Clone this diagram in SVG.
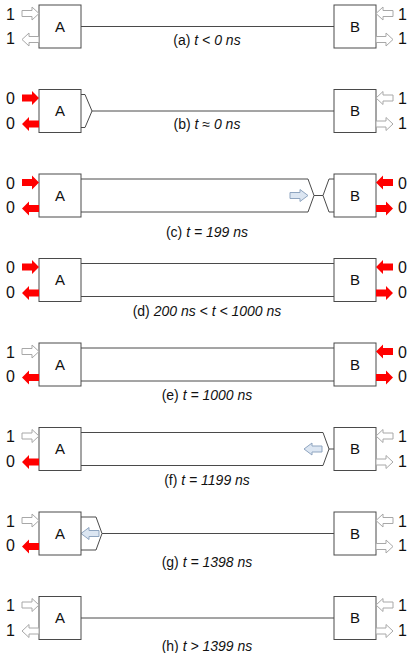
<svg xmlns="http://www.w3.org/2000/svg" xmlns:xlink="http://www.w3.org/1999/xlink" width="414" height="653" viewBox="0 0 414 653">
<style>
text{font-family:"Liberation Sans",Arial,sans-serif;font-size:14px;fill:#111}
.cap{text-anchor:middle}
.it{font-style:italic}
.box{fill:#fff;stroke:#4a4a4a;stroke-width:1}
.nm{text-anchor:middle;font-size:15px}
.sv{font-size:16px}
.ln{fill:none;stroke:#4a4a4a;stroke-width:1}
.w{fill:#fff;stroke:#a8a8a8;stroke-width:1}
.r{fill:#f00;stroke:none}
.lb{fill:#dce6f2;stroke:#8fa5c0;stroke-width:1}
</style>
<defs>
<polygon id="arr" points="-17,-3 -7,-3 -7,-6.5 0,0 -7,6.5 -7,3 -17,3"/>
<polygon id="arrR" points="-17,-3.5 -7,-3.5 -7,-7 0,0 -7,7 -7,3.5 -17,3.5"/>
<polygon id="arrB" points="-18,-3 -8,-3 -8,-6 0,0 -8,6 -8,3 -18,3"/>
</defs>

<g id="connectors">
<line class="ln" x1="81" y1="26.5" x2="334" y2="26.5"/>
<path class="ln" d="M81,94.5 H85 L92,111 L85,127.5 H81"/>
<line class="ln" x1="92" y1="111" x2="334" y2="111"/>
<path class="ln" d="M81,179 H308 L314,195.5 L308,212 H81"/>
<path class="ln" d="M334,179 H329 L323,195.5 L329,212 H334"/>
<line class="ln" x1="314" y1="195.5" x2="323" y2="195.5"/>
<use href="#arrB" class="lb" transform="translate(308,195.5)"/>
<line class="ln" x1="81" y1="263.5" x2="334" y2="263.5"/>
<line class="ln" x1="81" y1="296.5" x2="334" y2="296.5"/>
<line class="ln" x1="81" y1="348" x2="334" y2="348"/>
<line class="ln" x1="81" y1="381" x2="334" y2="381"/>
<path class="ln" d="M81,432.5 H323 L329,449 L323,465.5 H81"/>
<line class="ln" x1="329" y1="449" x2="334" y2="449"/>
<use href="#arrB" class="lb" transform="translate(304,449) scale(-1,1)"/>
<path class="ln" d="M81,517 H96 L102,533.5 L96,550 H81"/>
<line class="ln" x1="102" y1="533.5" x2="334" y2="533.5"/>
<use href="#arrB" class="lb" transform="translate(81,533.5) scale(-1,1)"/>
<line class="ln" x1="81" y1="618" x2="334" y2="618"/>
</g>

<g id="A_a"><rect class="box" x="39" y="5" width="42" height="43"/><text class="nm" x="60" y="31.5">A</text>
<use href="#arr" class="w" transform="translate(39,13.5)"/><use href="#arr" class="w" transform="translate(22,39.5) scale(-1,1)"/>
<text class="sv" x="6" y="19.5">1</text><text class="sv" x="6" y="44">1</text></g>
<g id="B_a"><rect class="box" x="334" y="5" width="42" height="43"/><text class="nm" x="355" y="31.5">B</text>
<use href="#arr" class="w" transform="translate(376,13.5) scale(-1,1)"/><use href="#arr" class="w" transform="translate(393,39.5)"/>
<text class="sv" x="398" y="19.5">1</text><text class="sv" x="398" y="44">1</text></g>
<text class="cap" x="207" y="45">(a) <tspan class="it">t &lt; 0 ns</tspan></text>

<g id="A_b"><rect class="box" x="39" y="89.5" width="42" height="43"/><text class="nm" x="60" y="116">A</text>
<use href="#arrR" class="r" transform="translate(39,98)"/><use href="#arrR" class="r" transform="translate(22,124) scale(-1,1)"/>
<text class="sv" x="6" y="104">0</text><text class="sv" x="6" y="128.5">0</text></g>
<g id="B_b"><rect class="box" x="334" y="89.5" width="42" height="43"/><text class="nm" x="355" y="116">B</text>
<use href="#arr" class="w" transform="translate(376,98) scale(-1,1)"/><use href="#arr" class="w" transform="translate(393,124)"/>
<text class="sv" x="398" y="104">1</text><text class="sv" x="398" y="128.5">1</text></g>
<text class="cap" x="207" y="129">(b) <tspan class="it">t ≈ 0 ns</tspan></text>

<g id="A_c"><rect class="box" x="39" y="174" width="42" height="43"/><text class="nm" x="60" y="200.5">A</text>
<use href="#arrR" class="r" transform="translate(39,182.5)"/><use href="#arrR" class="r" transform="translate(22,208.5) scale(-1,1)"/>
<text class="sv" x="6" y="188.5">0</text><text class="sv" x="6" y="213">0</text></g>
<g id="B_c"><rect class="box" x="334" y="174" width="42" height="43"/><text class="nm" x="355" y="200.5">B</text>
<use href="#arrR" class="r" transform="translate(376,182.5) scale(-1,1)"/><use href="#arrR" class="r" transform="translate(393,208.5)"/>
<text class="sv" x="398" y="188.5">0</text><text class="sv" x="398" y="213">0</text></g>
<text class="cap" x="207" y="237">(c) <tspan class="it">t = 199 ns</tspan></text>

<g id="A_d"><rect class="box" x="39" y="258.5" width="42" height="43"/><text class="nm" x="60" y="285">A</text>
<use href="#arrR" class="r" transform="translate(39,267)"/><use href="#arrR" class="r" transform="translate(22,293) scale(-1,1)"/>
<text class="sv" x="6" y="273">0</text><text class="sv" x="6" y="297.5">0</text></g>
<g id="B_d"><rect class="box" x="334" y="258.5" width="42" height="43"/><text class="nm" x="355" y="285">B</text>
<use href="#arrR" class="r" transform="translate(376,267) scale(-1,1)"/><use href="#arrR" class="r" transform="translate(393,293)"/>
<text class="sv" x="398" y="273">0</text><text class="sv" x="398" y="297.5">0</text></g>
<text class="cap" x="207" y="316">(d) <tspan class="it">200 ns &lt; t &lt; 1000 ns</tspan></text>

<g id="A_e"><rect class="box" x="39" y="343" width="42" height="43"/><text class="nm" x="60" y="369.5">A</text>
<use href="#arr" class="w" transform="translate(39,351.5)"/><use href="#arrR" class="r" transform="translate(22,377.5) scale(-1,1)"/>
<text class="sv" x="6" y="357.5">1</text><text class="sv" x="6" y="382">0</text></g>
<g id="B_e"><rect class="box" x="334" y="343" width="42" height="43"/><text class="nm" x="355" y="369.5">B</text>
<use href="#arrR" class="r" transform="translate(376,351.5) scale(-1,1)"/><use href="#arrR" class="r" transform="translate(393,377.5)"/>
<text class="sv" x="398" y="357.5">0</text><text class="sv" x="398" y="382">0</text></g>
<text class="cap" x="207" y="400">(e) <tspan class="it">t = 1000 ns</tspan></text>

<g id="A_f"><rect class="box" x="39" y="427.5" width="42" height="43"/><text class="nm" x="60" y="454">A</text>
<use href="#arr" class="w" transform="translate(39,436)"/><use href="#arrR" class="r" transform="translate(22,462) scale(-1,1)"/>
<text class="sv" x="6" y="442">1</text><text class="sv" x="6" y="466.5">0</text></g>
<g id="B_f"><rect class="box" x="334" y="427.5" width="42" height="43"/><text class="nm" x="355" y="454">B</text>
<use href="#arr" class="w" transform="translate(376,436) scale(-1,1)"/><use href="#arr" class="w" transform="translate(393,462)"/>
<text class="sv" x="398" y="442">1</text><text class="sv" x="398" y="466.5">1</text></g>
<text class="cap" x="207" y="485">(f) <tspan class="it">t = 1199 ns</tspan></text>

<g id="A_g"><rect class="box" x="39" y="512" width="42" height="43"/><text class="nm" x="60" y="538.5">A</text>
<use href="#arr" class="w" transform="translate(39,520.5)"/><use href="#arrR" class="r" transform="translate(22,546.5) scale(-1,1)"/>
<text class="sv" x="6" y="526.5">1</text><text class="sv" x="6" y="551">0</text></g>
<g id="B_g"><rect class="box" x="334" y="512" width="42" height="43"/><text class="nm" x="355" y="538.5">B</text>
<use href="#arr" class="w" transform="translate(376,520.5) scale(-1,1)"/><use href="#arr" class="w" transform="translate(393,546.5)"/>
<text class="sv" x="398" y="526.5">1</text><text class="sv" x="398" y="551">1</text></g>
<text class="cap" x="207" y="567">(g) <tspan class="it">t = 1398 ns</tspan></text>

<g id="A_h"><rect class="box" x="39" y="596.5" width="42" height="43"/><text class="nm" x="60" y="623">A</text>
<use href="#arr" class="w" transform="translate(39,605)"/><use href="#arr" class="w" transform="translate(22,631) scale(-1,1)"/>
<text class="sv" x="6" y="611">1</text><text class="sv" x="6" y="635.5">1</text></g>
<g id="B_h"><rect class="box" x="334" y="596.5" width="42" height="43"/><text class="nm" x="355" y="623">B</text>
<use href="#arr" class="w" transform="translate(376,605) scale(-1,1)"/><use href="#arr" class="w" transform="translate(393,631)"/>
<text class="sv" x="398" y="611">1</text><text class="sv" x="398" y="635.5">1</text></g>
<text class="cap" x="207" y="651">(h) <tspan class="it">t &gt; 1399 ns</tspan></text>
</svg>
